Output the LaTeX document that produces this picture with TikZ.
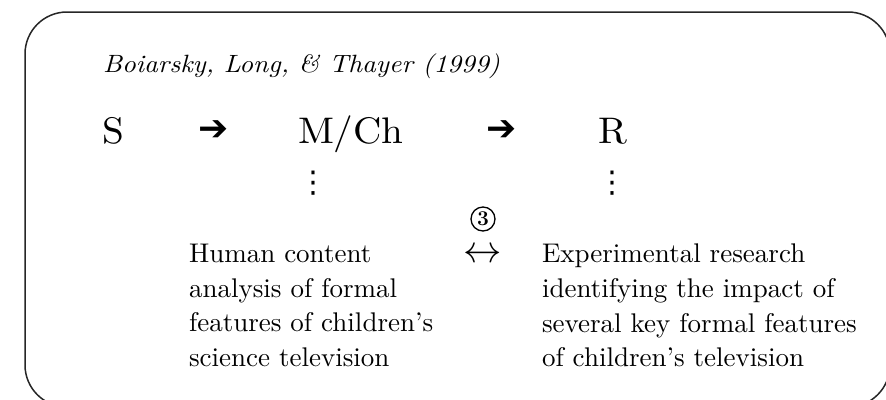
\documentclass[tikz,border=0pt]{standalone}
\usepackage{fontspec}
\newfontfamily\symfont{DejaVu Sans}
\newfontfamily\titlefont{lmroman10-italic.otf}[FakeStretch=1.08]
\newfontfamily\bigfont{lmroman10-regular.otf}[FakeStretch=1.06]
\newfontfamily\bodyfont{lmroman10-regular.otf}
\tikzset{
  lbl/.style={inner sep=0pt, outer sep=0pt},
  titletext/.style={lbl, anchor=base west, font=\titlefont\fontsize{25}{28}\selectfont},
  bigtext/.style={lbl, anchor=base west, font=\bigfont\fontsize{37}{40}\selectfont},
  heavyarrow/.style={lbl, font=\symfont\fontsize{36}{36}\selectfont},
  dotsglyph/.style={lbl, font=\symfont\fontsize{30}{30}\selectfont},
  circnum/.style={circle, draw, line width=1.3pt, minimum size=24pt, inner sep=0pt, font=\fontsize{21}{21}\selectfont\bfseries},
  dblarrow/.style={lbl, font=\fontsize{20}{20}\selectfont},
  bodytext/.style={lbl, anchor=north west, align=left, font=\bodyfont\fontsize{27}{34.7}\selectfont},
  frame/.style={draw=black!85, line width=1.5pt, rounded corners=42pt},
}
\begin{document}
\begin{tikzpicture}[x=1pt,y=-1pt]
\useasboundingbox (0,0) rectangle (886,399);
\clip (0,0) rectangle (886,399);
\path[frame] (25,12) rectangle (890,407);
\node[titletext] (title) at (103,72) {Boiarsky, Long, \& Thayer (1999)};
\node[bigtext] (S) at (102,143) {S};
\node[heavyarrow] (a1) at (214,131) {➔};
\node[bigtext] (M) at (298,143) {M/Ch};
\node[heavyarrow] (a2) at (502,131) {➔};
\node[bigtext] (R) at (598,143) {R};
\node[dotsglyph] (d1) at (313,183) {⋮};
\node[dotsglyph] (d2) at (612,183) {⋮};
\node[circnum] (c3) at (483,219) {3};
\node[dblarrow] (lr) at (483,255) {\scalebox{1.85}{$\leftrightarrow$}};
\node[bodytext] (left) at (189,244) {Human content\\analysis of formal\\features of children’s\\science television};
\node[bodytext] (right) at (542,244) {Experimental research\\identifying the impact of\\several key formal features\\of children’s television};
\end{tikzpicture}
\end{document}
